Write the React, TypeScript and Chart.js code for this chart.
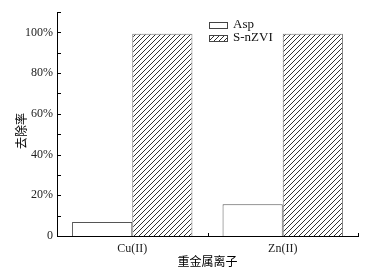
import React, { useEffect, useRef } from 'react';
import { Chart, registerables } from 'chart.js';

Chart.register(...registerables);

const categories = ['Cu(II)', 'Zn(II)'];
const aspValues = [6.9, 15.6];
const snzviValues = [99.3, 99.3];
const seriesNames = ['Asp', 'S-nZVI'];
const yAxisTitle = '去除率';
const xAxisTitle = '重金属离子';
const yMin = 0;
const yMax = 110;
const yStep = 10;

const SERIF = '"Liberation Serif", "Times New Roman", serif';
const CJK = '"Noto Sans CJK SC", sans-serif';

function makeHatch(): CanvasPattern | string {
  const s = 5;
  const c = document.createElement('canvas');
  c.width = s;
  c.height = s;
  const g = c.getContext('2d');
  if (!g) return '#888';
  g.fillStyle = '#ffffff';
  g.fillRect(0, 0, s, s);
  g.strokeStyle = '#1a1a1a';
  g.lineWidth = 0.9;
  g.beginPath();
  for (let k = -1; k <= 1; k++) {
    g.moveTo(-1, s + 1 + k * s);
    g.lineTo(s + 1, -1 + k * s);
  }
  g.stroke();
  const p = g.createPattern(c, 'repeat');
  return p || '#888';
}

export default function App() {
  const ref = useRef<HTMLCanvasElement | null>(null);

  useEffect(() => {
    document.body.style.margin = '0';
    const canvas = ref.current;
    if (!canvas) return;
    const hatch = makeHatch();

    const decor = {
      id: 'decor',
      afterDraw(chart: any) {
        const ctx = chart.ctx;
        const { left, right, bottom } = chart.chartArea;
        const ys = chart.scales.y;
        const xs = chart.scales.x;
        ctx.save();
        ctx.strokeStyle = '#000';
        ctx.lineWidth = 1;
        ctx.beginPath();
        for (let v = yMin; v <= yMax; v += yStep) {
          const y = Math.round(ys.getPixelForValue(v)) + 0.5;
          ctx.moveTo(left, y);
          ctx.lineTo(left + 4, y);
        }
        const n = categories.length;
        for (let i = 0; i < n; i++) {
          let x;
          if (i < n - 1) x = (xs.getPixelForValue(i) + xs.getPixelForValue(i + 1)) / 2;
          else x = right;
          x = Math.round(x) + 0.5;
          ctx.moveTo(x, bottom);
          ctx.lineTo(x, bottom - 3);
        }
        ctx.stroke();

        // legend
        const lx = 209.5;
        const boxW = 18;
        const boxH = 6;
        const rows = [24.5, 37.5];
        ctx.font = '13px ' + SERIF;
        ctx.textBaseline = 'middle';
        ctx.textAlign = 'left';
        rows.forEach((cy, i) => {
          const top = Math.round(cy - boxH / 2) + 0.5;
          ctx.fillStyle = i === 0 ? '#ffffff' : hatch;
          ctx.fillRect(lx, top, boxW, boxH);
          ctx.strokeStyle = '#444';
          ctx.strokeRect(lx, top, boxW, boxH);
          ctx.fillStyle = '#111';
          ctx.fillText(seriesNames[i], 233, cy + 0.5);
        });

        // y axis title
        ctx.translate(21, 131);
        ctx.rotate(-Math.PI / 2);
        ctx.font = '12px ' + CJK;
        ctx.textAlign = 'center';
        ctx.textBaseline = 'middle';
        ctx.fillStyle = '#000';
        ctx.fillText(yAxisTitle, 0, 0);
        ctx.restore();
      },
    };

    const chart = new Chart(canvas, {
      type: 'bar',
      data: {
        labels: categories,
        datasets: [
          {
            label: seriesNames[0],
            data: aspValues,
            backgroundColor: '#ffffff',
            borderColor: '#555555',
            borderWidth: 1,
            categoryPercentage: 0.8,
            barPercentage: 1,
          },
          {
            label: seriesNames[1],
            data: snzviValues,
            backgroundColor: hatch as any,
            borderColor: '#777777',
            borderWidth: 1,
            categoryPercentage: 0.8,
            barPercentage: 1,
          },
        ],
      },
      plugins: [decor],
      options: {
        responsive: false,
        animation: false,
        events: [],
        layout: { padding: { top: 12, right: 16, left: 0, bottom: 0 } },
        plugins: {
          legend: { display: false },
          tooltip: { enabled: false },
          title: { display: false },
        },
        scales: {
          x: {
            type: 'category',
            grid: { display: false, drawTicks: false },
            border: { display: true, color: '#000', width: 1 },
            ticks: {
              color: '#222',
              font: { family: SERIF, size: 12 },
              padding: 6,
              maxRotation: 0,
            },
            title: {
              display: true,
              text: xAxisTitle,
              color: '#000',
              font: { family: CJK, size: 12 },
              padding: { top: 0, bottom: 3 },
            },
            afterFit: (scale: any) => {
              scale.height = 36;
            },
          },
          y: {
            type: 'linear',
            min: yMin,
            max: yMax,
            grid: { display: false, drawTicks: false },
            border: { display: true, color: '#000', width: 1 },
            ticks: {
              stepSize: yStep,
              color: '#222',
              font: { family: SERIF, size: 12 },
              padding: 4,
              callback: (v: any) => {
                const n = Number(v);
                if (n % 20 !== 0) return '';
                return n === 0 ? '0' : n + '%';
              },
            },
            afterFit: (scale: any) => {
              scale.width = 57;
            },
          },
        },
      } as any,
    });
    return () => chart.destroy();
  }, []);

  return <canvas ref={ref} width={374} height={272} style={{ display: 'block' }} />;
}
